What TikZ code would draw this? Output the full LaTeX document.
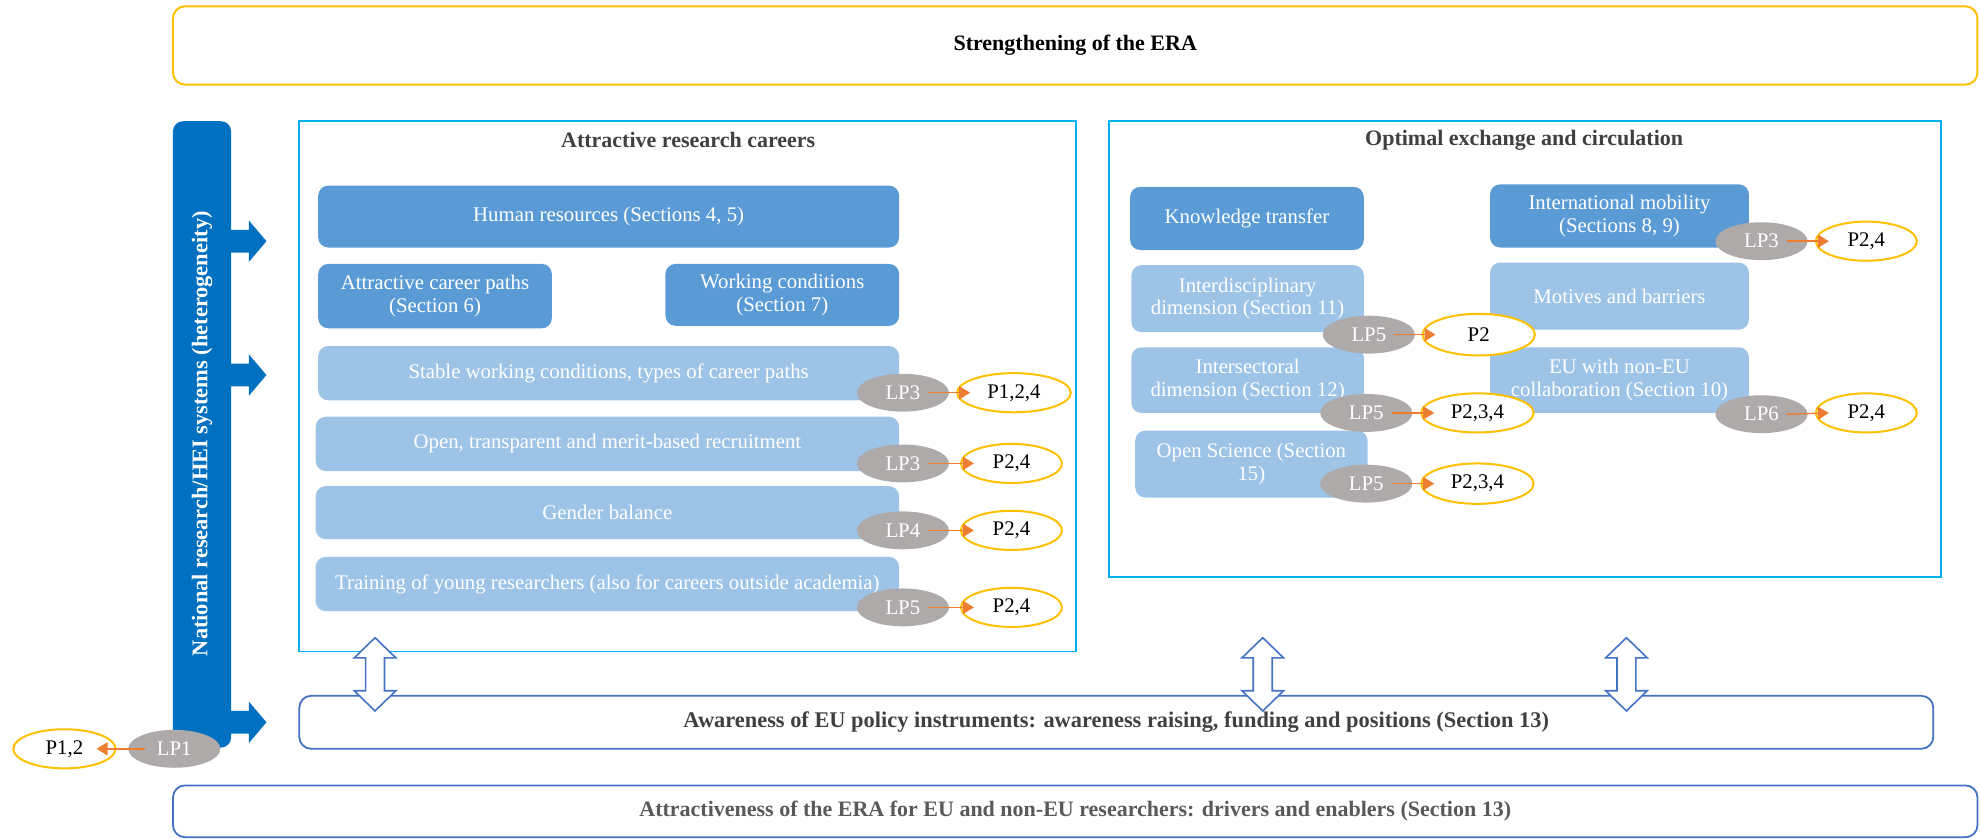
\documentclass[tikz,border=0pt]{standalone}
\usepackage{fontspec}
\setmainfont{Liberation Serif}
\usetikzlibrary{shapes.geometric,arrows.meta}
\definecolor{dbl}{HTML}{5B9BD5}
\definecolor{lbl}{HTML}{9DC3E6}
\definecolor{barb}{HTML}{0070C0}
\definecolor{cyanb}{HTML}{00B0F0}
\definecolor{goldb}{HTML}{FFC000}
\definecolor{navb}{HTML}{4472C4}
\definecolor{lpg}{HTML}{AEAAAA}
\definecolor{orar}{HTML}{ED7D31}
\definecolor{ttl}{HTML}{404040}
\definecolor{ttlb}{HTML}{595959}
\def\PX{0.6314pt}
% box from corner (x1,y1) to (x2,y2): \bx{style}{x1}{y1}{x2}{y2}{name}{text}
\newcommand\bx[7]{\node[#1, minimum width={((#4)-(#2))*\PX}, minimum height={((#5)-(#3))*\PX}] (#6) at ({((#2)+(#4))/2},{((#3)+(#5))/2}) {#7};}
\begin{document}
\begin{tikzpicture}[x=0.6314pt,y=-0.6314pt,
  txt/.style={font=\fontsize{10.4}{11.2}\selectfont},
  dbox/.style={fill=dbl, rounded corners=5pt, inner sep=0pt, text=white, txt, align=center},
  lbox/.style={dbox, fill=lbl},
  panel/.style={draw=cyanb, line width=0.9pt, inner sep=0pt},
  title/.style={font=\fontsize{11}{13}\selectfont\bfseries, text=ttl},
  band/.style={draw=navb, line width=0.9pt, rounded corners=6pt, inner sep=0pt, font=\fontsize{11.2}{13}\selectfont\bfseries},
  lpnode/.style={ellipse, fill=lpg, minimum width=73*\PX, minimum height=30*\PX, inner sep=0pt, text=white, txt},
  pnode/.style={ellipse, draw=goldb, line width=1pt, fill=white, minimum width=80*\PX, minimum height=31*\PX, inner sep=0pt, text=black, txt},
  oarr/.style={draw=orar, line width=0.7pt, -{Triangle[length=5.5pt,width=6.5pt]}},
  dblarr/.style={fill=white, draw=navb, line width=0.8pt},
  ]
\useasboundingbox (0,0) rectangle (1568,664);

% top box
\bx{draw=goldb, line width=1pt, rounded corners=6pt, inner sep=0pt, title, text=black}{137}{5}{1566}{67}{top}{Strengthening of the ERA}

% bottom bands
\bx{band, text=ttlb, font=\fontsize{11}{13}\selectfont\bfseries}{137}{622}{1566}{663}{bot}{Attractiveness of the ERA for EU and non-EU researchers: drivers and enablers (Section 13)}
\bx{band, text=ttl}{237}{551}{1531}{593}{aw}{Awareness of EU policy instruments: awareness raising, funding and positions (Section 13)}

% vertical bar
\bx{fill=barb, rounded corners=5pt, inner sep=0pt}{137}{96}{183}{592}{bar}{}
\node[rotate=90, font=\fontsize{11.2}{13}\selectfont\bfseries, text=white] (barlbl) at (160,343.5) {National research/HEI systems (heterogeneity)};
\foreach \yy in {191,297,572}{
  \fill[barb] (182,{\yy-9}) -- (197,{\yy-9}) -- (197,{\yy-16.5}) -- (211,\yy) -- (197,{\yy+16.5}) -- (197,{\yy+9}) -- (182,{\yy+9}) -- cycle;
}

% panels
\bx{panel}{237}{96}{852}{516}{lpanel}{}
\node[title] (ltitle) at (545,111) {Attractive research careers};
\bx{panel}{878}{96}{1537}{457}{rpanel}{}
\node[title] (rtitle) at (1207,111) {Optimal exchange and circulation};

% left panel boxes
\bx{dbox}{252}{147}{712}{196}{hr}{Human resources (Sections 4, 5)}
\bx{dbox}{252}{209}{437}{260}{acp}{Attractive career paths\\(Section 6)}
\bx{dbox}{527}{209}{712}{258}{wc}{Working conditions\\(Section 7)}
\bx{lbox}{252}{274}{712}{317}{swc}{Stable working conditions, types of career paths}
\bx{lbox}{250}{330}{712}{373}{otm}{Open, transparent and merit-based recruitment}
\bx{lbox}{250}{385}{712}{427}{gb}{Gender balance}
\bx{lbox}{250}{441}{712}{484}{tyr}{Training of young researchers (also for careers outside academia)}

% right panel boxes
\bx{dbox}{895}{148}{1080}{198}{kt}{Knowledge transfer}
\bx{dbox}{1180}{146}{1385}{196}{im}{International mobility\\(Sections 8, 9)}
\bx{lbox}{896}{210}{1080}{263}{idd}{Interdisciplinary\\dimension (Section 11)}
\bx{lbox}{1180}{208}{1385}{261}{mb}{Motives and barriers}
\bx{lbox}{896}{275}{1080}{327}{isd}{Intersectoral\\dimension (Section 12)}
\bx{lbox}{1180}{275}{1385}{327}{eu}{EU with non-EU\\collaboration (Section 10)}
\bx{lbox}{899}{341}{1083}{394}{os}{Open Science (Section\\15)}

% LP / P nodes
\node[lpnode] (lpa) at (715,311) {LP3};
\node[pnode, minimum width=90*\PX] (pa) at (803,311) {P1,2,4};
\node[lpnode] (lpb) at (715,367) {LP3};
\node[pnode] (pb) at (801,367) {P2,4};
\node[lpnode] (lpc) at (715,420) {LP4};
\node[pnode] (pc) at (801,420) {P2,4};
\node[lpnode] (lpd) at (715,481) {LP5};
\node[pnode] (pd) at (801,481) {P2,4};

\node[lpnode] (lpe) at (1395,191) {LP3};
\node[pnode] (pe) at (1478,191) {P2,4};
\node[lpnode] (lpf) at (1084,265) {LP5};
\node[pnode, minimum width=89*\PX, minimum height=33*\PX] (pf) at (1171,265) {P2};
\node[lpnode] (lpg) at (1082,327) {LP5};
\node[pnode, minimum width=89*\PX] (pg) at (1170,327) {P2,3,4};
\node[lpnode] (lph) at (1395,328) {LP6};
\node[pnode] (ph) at (1478,327) {P2,4};
\node[lpnode] (lpi) at (1082,383) {LP5};
\node[pnode, minimum width=89*\PX, minimum height=32*\PX] (pi) at (1170,383) {P2,3,4};

\node[lpnode] (lp1) at (138,593) {LP1};
\node[pnode, minimum width=81*\PX] (p1) at (51,593) {P1,2};

\foreach \a/\b in {lpa/pa,lpb/pb,lpc/pc,lpd/pd,lpe/pe,lpf/pf,lpg/pg,lph/ph,lpi/pi}{
  \draw[oarr] ([xshift=-10.5pt]\a.east) -- ([xshift=7pt]\b.west);
}
\draw[oarr] ([xshift=8.5pt]lp1.west) -- ([xshift=-10pt]p1.east);

% double arrows
\foreach \cx in {297,1000,1288}{
  \draw[dblarr] (\cx,505) -- ({\cx+16.5},521) -- ({\cx+7.5},521) -- ({\cx+7.5},547) -- ({\cx+16.5},547) -- (\cx,563) -- ({\cx-16.5},547) -- ({\cx-7.5},547) -- ({\cx-7.5},521) -- ({\cx-16.5},521) -- cycle;
}
\end{tikzpicture}
\end{document}
